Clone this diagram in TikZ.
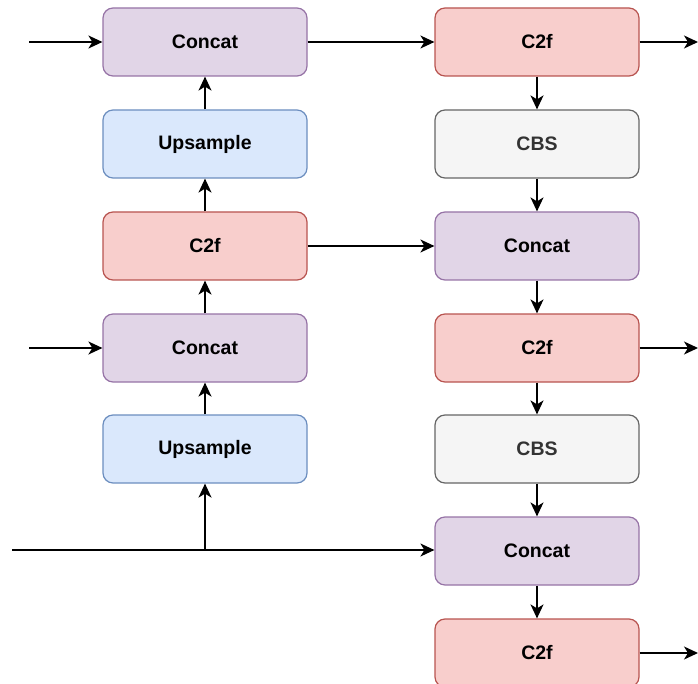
\documentclass[tikz,border=0pt]{standalone}
\usepackage{fontspec}
\setmainfont{Liberation Sans}
\usetikzlibrary{arrows.meta}
\definecolor{pfill}{HTML}{E1D5E7}\definecolor{pdraw}{HTML}{9673A6}
\definecolor{bfill}{HTML}{DAE8FC}\definecolor{bdraw}{HTML}{6C8EBF}
\definecolor{rfill}{HTML}{F8CECC}\definecolor{rdraw}{HTML}{B85450}
\definecolor{gfill}{HTML}{F5F5F5}\definecolor{gdraw}{HTML}{666666}
\definecolor{gtext}{HTML}{333333}
\begin{document}
\begin{tikzpicture}[x=1pt,y=-1pt,
  blk/.style={rectangle,rounded corners=10pt,minimum width=204pt,minimum height=68pt,line width=1.2pt,font=\fontsize{19.5}{22}\selectfont\bfseries,inner sep=0pt},
  concat/.style={blk,fill=pfill,draw=pdraw},
  ups/.style={blk,fill=bfill,draw=bdraw},
  ctwo/.style={blk,fill=rfill,draw=rdraw},
  cbs/.style={blk,fill=gfill,draw=gdraw,text=gtext},
  arr/.style={line width=1.6pt,-{Stealth[length=14pt,width=13pt,inset=4pt]}},
  ln/.style={line width=1.6pt}]
\useasboundingbox (0,0) rectangle (698,684);
\clip (0,0) rectangle (698,684);
% left column
\node[concat] (L1) at (205,42) {Concat};
\node[ups] (L2) at (205,144) {Upsample};
\node[ctwo] (L3) at (205,246) {C2f};
\node[concat] (L4) at (205,348) {Concat};
\node[ups] (L5) at (205,449) {Upsample};
% right column
\node[ctwo] (R1) at (537,42) {C2f};
\node[cbs] (R2) at (537,144) {CBS};
\node[concat] (R3) at (537,246) {Concat};
\node[ctwo] (R4) at (537,348) {C2f};
\node[cbs] (R5) at (537,449) {CBS};
\node[concat] (R6) at (537,551) {Concat};
\node[ctwo] (R7) at (537,653) {C2f};
% inputs
\coordinate (in1) at (29,42);
\coordinate (in2) at (29,348);
\coordinate (in3) at (12,550);
\coordinate (br) at (205,550);
\coordinate (o1) at (698,42);
\coordinate (o2) at (698,348);
\coordinate (o3) at (698,653);
\draw[arr] (in1) -- (L1.west);
\draw[arr] (in2) -- (L4.west);
\draw[ln] (in3) -- (br);
\draw[arr] (br) -- (L5.south);
\draw[arr] (br) -- (R6.west |- br);
\draw[arr] (L5) -- (L4);
\draw[arr] (L4) -- (L3);
\draw[arr] (L3) -- (L2);
\draw[arr] (L2) -- (L1);
\draw[arr] (L1) -- (R1);
\draw[arr] (L3) -- (R3);
\draw[arr] (R1) -- (R2);
\draw[arr] (R2) -- (R3);
\draw[arr] (R3) -- (R4);
\draw[arr] (R4) -- (R5);
\draw[arr] (R5) -- (R6);
\draw[arr] (R6) -- (R7);
\draw[arr] (R1) -- (o1);
\draw[arr] (R4) -- (o2);
\draw[arr] (R7) -- (o3);
\end{tikzpicture}
\end{document}
